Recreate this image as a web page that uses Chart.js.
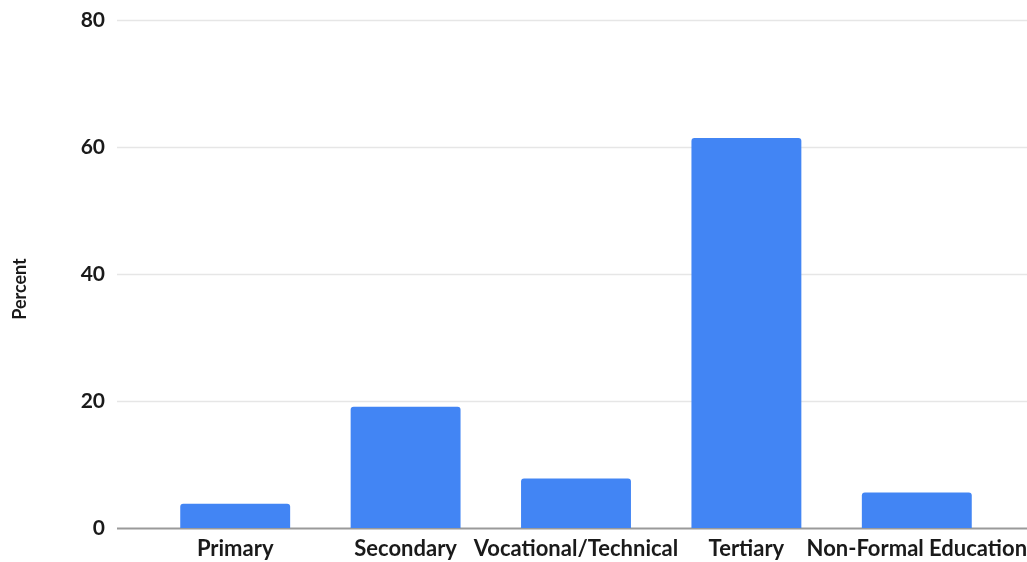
<!DOCTYPE html>
<html>
<head>
<meta charset="utf-8">
<script src="https://cdn.jsdelivr.net/npm/chart.js@4"></script>
<style>
  html, body { margin: 0; padding: 0; background: #ffffff; }
  #wrap { width: 1027px; height: 562px; position: relative; }
</style>
</head>
<body>
<div id="wrap"><canvas id="c" width="1027" height="562"></canvas></div>
<script>
const categories = ['Primary', 'Secondary', 'Vocational/Technical', 'Tertiary', 'Non-Formal Education'];
const percentValues = [3.8, 19.1, 7.8, 61.4, 5.6];
const yTicks = [0, 20, 40, 60, 80];
const yAxisTitle = 'Percent';

const FONT = "Lato, 'Open Sans', sans-serif";
const TEXT = '#1a1a1a';

// Horizontal grid lines run the full width, beyond the plotted categories.
const wideGrid = {
  id: 'wideGrid',
  beforeDatasetsDraw(chart) {
    const y = chart.scales.y;
    const ctx = chart.ctx;
    ctx.save();
    yTicks.forEach(v => {
      const py = Math.round(y.getPixelForValue(v)) + 0.5;
      ctx.beginPath();
      ctx.moveTo(117, py);
      ctx.lineTo(chart.width, py);
      ctx.lineWidth = v === 0 ? 2 : 1.5;
      ctx.strokeStyle = v === 0 ? '#9a9a9a' : '#e6e6e6';
      ctx.stroke();
    });
    ctx.restore();
  }
};

// Rotated y-axis title, sitting a little below the middle of the axis.
const axisTitle = {
  id: 'axisTitle',
  afterDraw(chart) {
    const ctx = chart.ctx;
    ctx.save();
    ctx.translate(20, 289);
    ctx.rotate(-Math.PI / 2);
    ctx.font = 'bold 18px ' + FONT;
    ctx.fillStyle = TEXT;
    ctx.textAlign = 'center';
    ctx.textBaseline = 'middle';
    ctx.fillText(yAxisTitle, 0, 0);
    ctx.restore();
  }
};

new Chart(document.getElementById('c'), {
  type: 'bar',
  data: {
    labels: categories,
    datasets: [{
      data: percentValues,
      backgroundColor: '#4285f4',
      borderRadius: { topLeft: 3, topRight: 3 },
      borderSkipped: 'bottom',
      barPercentage: 0.645,
      categoryPercentage: 1
    }]
  },
  options: {
    responsive: false,
    animation: false,
    layout: { padding: { top: 20, right: 25, left: 0, bottom: 0 } },
    plugins: { legend: { display: false }, tooltip: { enabled: false } },
    scales: {
      x: {
        grid: { display: false, drawTicks: false },
        border: { display: false },
        ticks: {
          color: TEXT,
          font: { family: FONT, size: 22, weight: 'bold' },
          padding: 8,
          maxRotation: 0,
          autoSkip: false
        },
        afterFit(scale) {
          scale.height = 34;
          scale.paddingLeft = 0;
          scale.paddingRight = 0;
        }
      },
      y: {
        min: 0,
        max: 80,
        afterBuildTicks(scale) { scale.ticks = yTicks.map(v => ({ value: v })); },
        grid: { display: false, drawTicks: false },
        border: { display: false },
        ticks: {
          color: TEXT,
          font: { family: FONT, size: 21, weight: 'bold' },
          padding: 45
        },
        afterFit(scale) {
          scale.width = 150;
          scale.paddingTop = 0;
          scale.paddingBottom = 0;
        }
      }
    }
  },
  plugins: [wideGrid, axisTitle]
});
</script>
</body>
</html>
